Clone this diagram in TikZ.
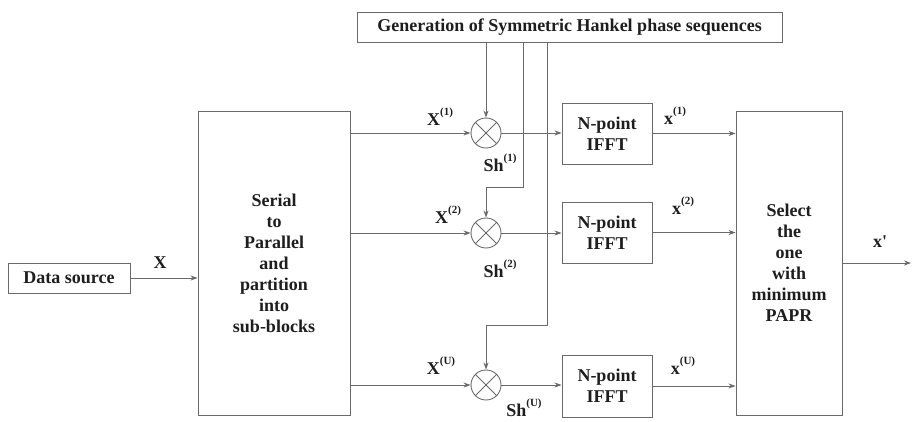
\documentclass[tikz,border=0pt]{standalone}
\usepackage{fontspec}
\setmainfont{Liberation Serif}
\usetikzlibrary{arrows.meta}
\definecolor{linegray}{HTML}{6A6A6A}
\definecolor{txt}{HTML}{1E1E1E}
\newcommand{\supx}[1]{\raisebox{0.55em}{\fontsize{11}{11}\selectfont(#1)}}
\begin{document}
\begin{tikzpicture}[x=1pt,y=-1pt,
  line/.style={draw=linegray, line width=0.9pt},
  arr/.style={line, -{Stealth[length=7pt,width=5pt,fill=txt]}},
  blk/.style={draw=linegray, line width=0.9pt, inner sep=0pt, text=txt,
    font=\bfseries\fontsize{18}{21}\selectfont, align=center},
  mult/.style={circle, draw=linegray, line width=0.9pt, minimum size=30pt, inner sep=0pt},
  lbl/.style={font=\bfseries\fontsize{18}{21}\selectfont, text=txt, inner sep=0pt}]
\useasboundingbox (0,0) rectangle (912,421);

% blocks
\node[blk, minimum width=425pt, minimum height=30pt] (gen) at (569.5,27) {Generation of Symmetric Hankel phase sequences};
\node[blk, minimum width=122pt, minimum height=30pt] (ds) at (69,278) {Data source};
\node[blk, minimum width=152pt, minimum height=304pt] (sp) at (274,263) {Serial\\ to\\ Parallel\\ and\\ partition\\ into\\ sub-blocks};
\node[blk, minimum width=90pt, minimum height=61pt] (f1) at (607,133.5) {N-point\\IFFT};
\node[blk, minimum width=90pt, minimum height=61pt] (f2) at (607,232.5) {N-point\\IFFT};
\node[blk, minimum width=90pt, minimum height=62pt] (fu) at (607,386) {N-point\\IFFT};
\node[blk, minimum width=106pt, minimum height=304pt] (sel) at (789,263) {Select\\the\\one\\with\\minimum\\PAPR};

% multipliers
\node[mult] (m1) at (486,133) {};
\node[mult] (m2) at (486,233) {};
\node[mult] (mu) at (486,385) {};
\foreach \m in {m1,m2,mu}{
  \draw[line] (\m.north west) -- (\m.south east);
  \draw[line] (\m.north east) -- (\m.south west);
}

% coordinates
\coordinate (t2) at (523,187);
\coordinate (t3) at (547,325);
\coordinate (out) at (911,263);

% connectors
\draw[arr] (ds.east) -- (ds -| sp.west);
\draw[arr] (m1 -| sp.east) -- (m1.west);
\draw[arr] (m2 -| sp.east) -- (m2.west);
\draw[arr] (mu -| sp.east) -- (mu.west);
\draw[arr] (m1.east) -- (m1 -| f1.west);
\draw[arr] (m2.east) -- (m2 -| f2.west);
\draw[arr] (mu.east) -- (mu -| fu.west);
\draw[arr] (f1.east) -- (f1 -| sel.west);
\draw[arr] (f2.east) -- (f2 -| sel.west);
\draw[arr] (fu.east) -- (fu -| sel.west);
\draw[arr] (sel.east |- out) -- (out);
\draw[arr] (gen.south -| m1) -- (m1.north);
\draw[arr] (gen.south -| t2) -- (t2) -| (m2.north);
\draw[arr] (gen.south -| t3) -- (t3) -| (mu.north);

% labels
\node[lbl] (lX) at (160,263) {X};
\node[lbl] (lX1) at (440,117) {X\supx{1}};
\node[lbl] (lX2) at (448,215) {X\supx{2}};
\node[lbl] (lXU) at (441,366) {X\supx{U}};
\node[lbl] (lS1) at (500,163) {Sh\supx{1}};
\node[lbl] (lS2) at (500,269) {Sh\supx{2}};
\node[lbl] (lSU) at (524,408) {Sh\supx{U}};
\node[lbl] (lx1) at (675,116) {x\supx{1}};
\node[lbl] (lx2) at (683,206) {x\supx{2}};
\node[lbl] (lxU) at (683,366) {x\supx{U}};
\node[lbl] (lxp) at (880,242) {x\textquotesingle};
\end{tikzpicture}
\end{document}
